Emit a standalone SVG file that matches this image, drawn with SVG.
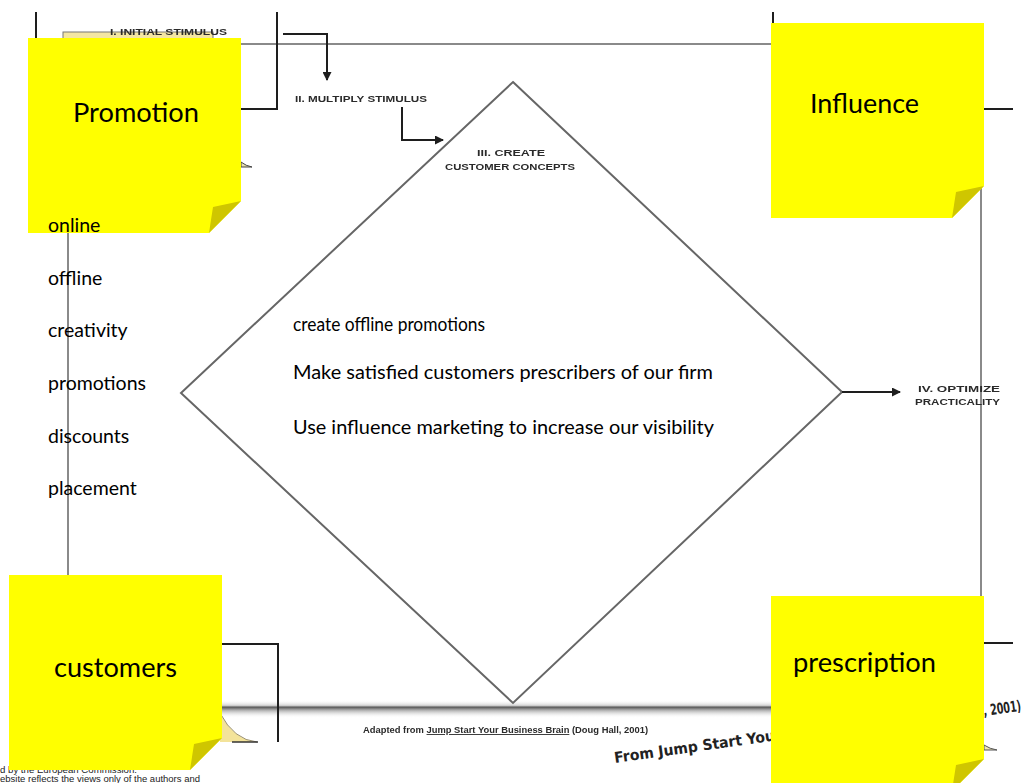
<svg xmlns="http://www.w3.org/2000/svg" xmlns:xlink="http://www.w3.org/1999/xlink" width="1031" height="783" viewBox="0 0 1031 783">
  <defs>
    <style>
      .frame { stroke: #8a8a8a; stroke-width: 2; fill: none; }
      .wire { stroke: #1e1e1e; stroke-width: 2; fill: none; }
      .diamond { stroke: #666666; stroke-width: 2; fill: none; }
      .small { font-family: "Liberation Sans", Arial, sans-serif; font-weight: bold; font-size: 9px; fill: #2a2a2a; }
      .note-title { font-family: Lato, "Noto Sans", sans-serif; font-size: 26.5px; fill: #000; }
      .body { font-family: Lato, "Noto Sans", sans-serif; font-size: 19.5px; fill: #000; }
      .hand { font-family: "DejaVu Sans", sans-serif; font-size: 15px; fill: #222; }
      .foot { font-family: "Liberation Sans", Arial, sans-serif; font-size: 9px; fill: #222; }
    </style>
    <filter id="soft" x="-5%" y="-50%" width="110%" height="200%">
      <feGaussianBlur stdDeviation="0.5"/>
    </filter>
    <linearGradient id="band" x1="0" y1="0" x2="0" y2="1">
      <stop offset="0" stop-color="#ffffff" stop-opacity="0"/>
      <stop offset="0.3" stop-color="#d4d4d4"/>
      <stop offset="0.4" stop-color="#5a5a5a"/>
      <stop offset="0.55" stop-color="#a8a8a8"/>
      <stop offset="1" stop-color="#ffffff" stop-opacity="0"/>
    </linearGradient>
    <marker id="head" markerUnits="userSpaceOnUse" markerWidth="10" markerHeight="9" refX="8" refY="4.5" orient="auto">
      <path d="M0,0 L9,4.5 L0,9 Z" fill="#1e1e1e"/>
    </marker>
    <!-- sticky note: 213 x 195 with a folded lower-right corner -->
    <g id="note">
      <path d="M0,0 H213 V163 L181,195 H0 Z" fill="#FFFF00"/>
      <path d="M213,163 L185,169 L181,195 Z" fill="#CFC600"/>
    </g>
  </defs>

  <rect width="1031" height="783" fill="#ffffff"/>

  <!-- outer frame of the process chart -->
  <g id="frame">
    <line class="frame" x1="68" y1="44" x2="68" y2="706"/>
    <line class="frame" x1="68" y1="44" x2="981" y2="44"/>
    <line class="frame" x1="981" y1="44" x2="981" y2="706"/>
    <rect x="220" y="700" width="555" height="18" fill="url(#band)"/>
    <rect x="63" y="32" width="150" height="20" fill="#F4E6A2" stroke="#777" stroke-width="1"/>
    <path d="M220,713 Q234,740 257,742 L220,742 Z" fill="#F3E39A"/>
    <path d="M220,713 Q234,740 257,742" stroke="#9a9070" stroke-width="1" fill="none"/>
    <line x1="232" y1="742" x2="258" y2="742" stroke="#333" stroke-width="1.5"/>
    <path d="M241,162 Q246,166 252,167 L241,167 Z" fill="#e8e0b0" stroke="#444" stroke-width="1"/>
    <path d="M984,745 Q990,749 997,750 L984,750 Z" fill="#efe6b8" stroke="#555" stroke-width="1"/>
  </g>

  <!-- stage diamond -->
  <g id="stage-diamond">
    <polygon class="diamond" points="513,82 842,392 513,703 181,393"/>
  </g>

  <!-- connectors between stages -->
  <g id="connectors">
    <path class="wire" d="M36,12 V38"/>
    <path class="wire" d="M277,12 V109 H240"/>
    <path class="wire" d="M283,34 H327 V80" marker-end="url(#head)"/>
    <path class="wire" d="M402,107 V140 H443" marker-end="url(#head)"/>
    <path class="wire" d="M842,392 H900" marker-end="url(#head)"/>
    <path class="wire" d="M773,12 V24"/>
    <path class="wire" d="M984,109 H1013"/>
    <path class="wire" d="M983,643 H1013"/>
    <path class="wire" d="M220,644 H278 V742"/>
  </g>

  <!-- stage labels -->
  <g id="stage-labels" filter="url(#soft)">
    <text class="small" x="110" y="35" textLength="117" lengthAdjust="spacingAndGlyphs">I. INITIAL STIMULUS</text>
    <text class="small" x="295" y="102" textLength="132" lengthAdjust="spacingAndGlyphs">II.  MULTIPLY STIMULUS</text>
    <text class="small" x="477" y="156" textLength="68" lengthAdjust="spacingAndGlyphs">III.  CREATE</text>
    <text class="small" x="445" y="170" textLength="130" lengthAdjust="spacingAndGlyphs">CUSTOMER CONCEPTS</text>
    <text class="small" x="918" y="392" textLength="82" lengthAdjust="spacingAndGlyphs">IV.  OPTIMIZE</text>
    <text class="small" x="915" y="405" textLength="85" lengthAdjust="spacingAndGlyphs">PRACTICALITY</text>
    <text class="small" x="363" y="733" font-size="7.5" textLength="285" lengthAdjust="spacingAndGlyphs">Adapted from <tspan text-decoration="underline">Jump Start Your Business Brain</tspan> (Doug Hall, 2001)</text>
  </g>

  <!-- handwritten caption -->
  <g id="caption">
    <text class="hand" x="615" y="763" font-weight="bold" transform="rotate(-8 615 763)" textLength="162" lengthAdjust="spacingAndGlyphs">From Jump Start You</text>
    <text class="hand" x="984" y="716" font-size="12" font-weight="bold" transform="rotate(-8 984 716)" textLength="38" lengthAdjust="spacingAndGlyphs">, 2001)</text>
  </g>

  <!-- funding notice -->
  <g id="notice">
    <text class="foot" x="0" y="773" textLength="137" lengthAdjust="spacingAndGlyphs">d by the European Commission.</text>
    <text class="foot" x="0" y="782" textLength="200" lengthAdjust="spacingAndGlyphs">ebsite reflects the views only of the authors and</text>
  </g>

  <!-- sticky notes -->
  <g id="note-promotion">
    <use xlink:href="#note" x="28" y="38"/>
    <text class="note-title" x="73" y="122" textLength="126" lengthAdjust="spacingAndGlyphs">Promotion</text>
  </g>
  <g id="note-influence">
    <use xlink:href="#note" x="771" y="23"/>
    <text class="note-title" x="810" y="113" textLength="109" lengthAdjust="spacingAndGlyphs">Influence</text>
  </g>
  <g id="note-customers">
    <use xlink:href="#note" x="9" y="575"/>
    <text class="note-title" x="54" y="677" textLength="123" lengthAdjust="spacingAndGlyphs">customers</text>
  </g>
  <g id="note-prescription">
    <use xlink:href="#note" x="771" y="596"/>
    <text class="note-title" x="793" y="672" textLength="143" lengthAdjust="spacingAndGlyphs">prescription</text>
  </g>

  <!-- promotion channels -->
  <g id="channel-list">
    <text class="body" x="48" y="232">online</text>
    <text class="body" x="48" y="285">offline</text>
    <text class="body" x="48" y="337">creativity</text>
    <text class="body" x="48" y="390">promotions</text>
    <text class="body" x="48" y="443">discounts</text>
    <text class="body" x="48" y="495">placement</text>
  </g>

  <!-- actions inside the diamond -->
  <g id="actions">
    <text class="body" x="293" y="331" textLength="192" lengthAdjust="spacingAndGlyphs">create offline promotions</text>
    <text class="body" x="293" y="379" textLength="420" lengthAdjust="spacingAndGlyphs">Make satisfied customers prescribers of our firm</text>
    <text class="body" x="293" y="434" textLength="421" lengthAdjust="spacingAndGlyphs">Use influence marketing to increase our visibility</text>
  </g>
</svg>
